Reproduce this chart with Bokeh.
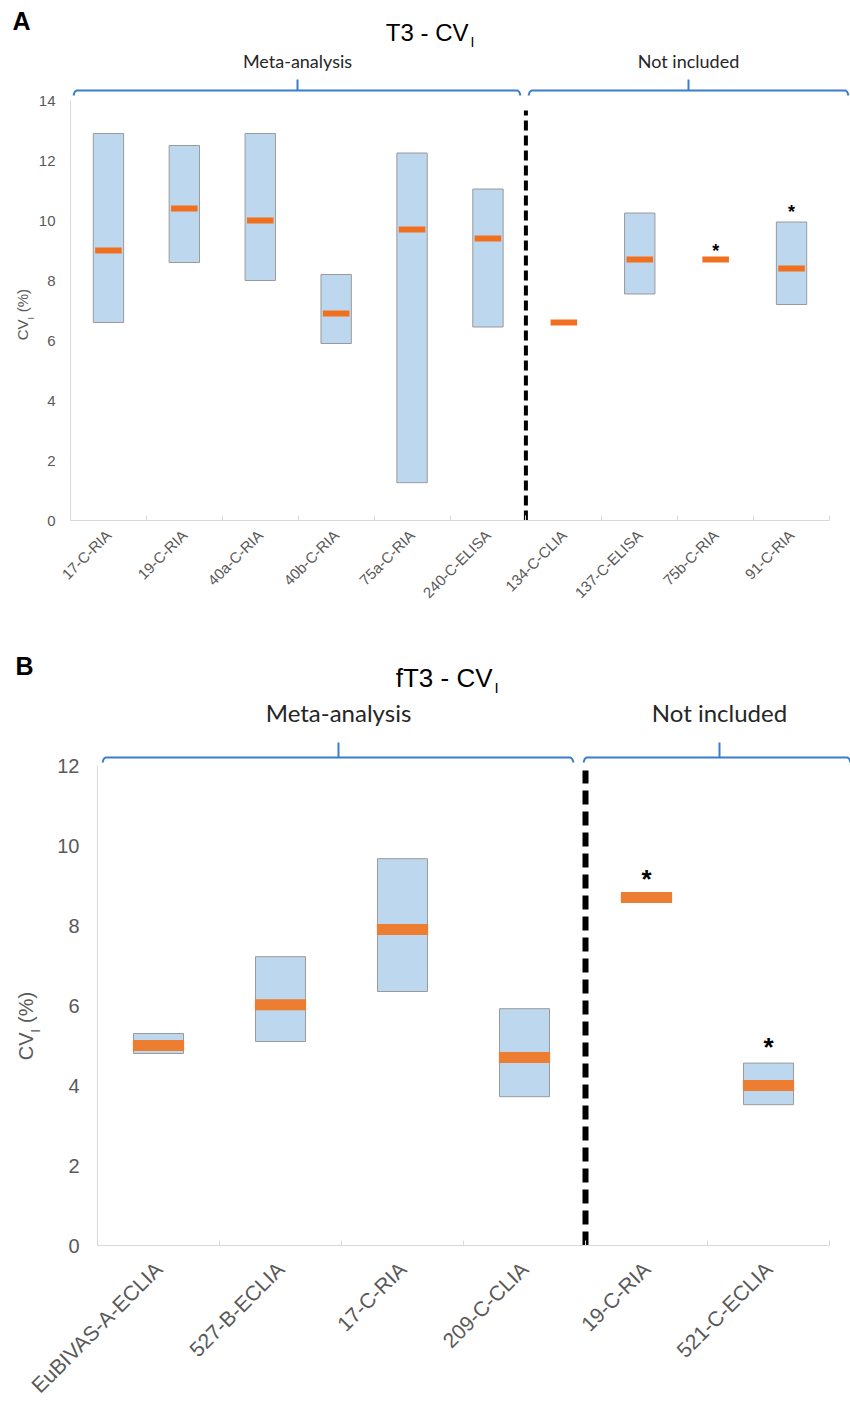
import math
from bokeh.plotting import figure
from bokeh.models import Range1d, FixedTicker
from bokeh.layouts import column
from bokeh.core.properties import value
from bokeh.embed import file_html
from bokeh.resources import INLINE

# ---------------- data ----------------
A_labels = ["17-C-RIA", "19-C-RIA", "40a-C-RIA", "40b-C-RIA", "75a-C-RIA", "240-C-ELISA",
            "134-C-CLIA", "137-C-ELISA", "75b-C-RIA", "91-C-RIA"]
A_low = [6.6, 8.6, 8.0, 5.9, 1.26, 6.45, None, 7.55, None, 7.2]
A_high = [12.9, 12.5, 12.9, 8.2, 12.25, 11.05, None, 10.25, None, 9.95]
A_median = [9.0, 10.4, 10.0, 6.9, 9.7, 9.4, 6.6, 8.7, 8.7, 8.4]
A_star = [None, None, None, None, None, None, None, None, 9.07, 10.37]
A_n_meta = 6
A_yticks = [0, 2, 4, 6, 8, 10, 12, 14]

B_labels = ["EuBIVAS-A-ECLIA", "527-B-ECLIA", "17-C-RIA", "209-C-CLIA", "19-C-RIA", "521-C-ECLIA"]
B_low = [4.8, 5.1, 6.35, 3.72, None, 3.52]
B_high = [5.3, 7.22, 9.67, 5.92, None, 4.56]
B_median = [5.0, 6.02, 7.9, 4.7, 8.7, 4.0]
B_star = [None, None, None, None, 9.25, 5.05]
B_n_meta = 4
B_yticks = [0, 2, 4, 6, 8, 10, 12]

GROUPS = ["Meta-analysis", "Not included"]

BOX_FILL = "#bdd7ee"
BOX_LINE = "#9a9a9a"
AXIS_COL = "#d9d9d9"
TICK_COL = "#595959"
BRACE_COL = "#3a7dcc"
TXT_COL = "#262626"

BASE_FIX = 0.4  # empirical baseline correction (fraction of font size)


def make_panel(labels, low, high, median, star, n_meta, yticks, ymax,
               width, height, bl, br, bt, bb, cfg):
    n = len(labels)
    p = figure(width=width, height=height, x_range=Range1d(0.5, n + 0.5),
               y_range=Range1d(0, ymax), output_backend="svg", toolbar_location=None,
               min_border_left=bl, min_border_right=br, min_border_top=bt,
               min_border_bottom=bb)
    p.frame_align = False
    p.outline_line_color = None
    p.grid.visible = False
    p.background_fill_color = "white"

    ppx = (width - bl - br) / n
    ppy = (height - bt - bb) / ymax

    def X(px):  # pixel within figure -> data x
        return 0.5 + (px - bl) / ppx

    def Y(py):  # pixel from figure top -> data y
        return (height - bb - py) / ppy

    def add_text(px, py, text, font, fs, color="black", align="left", angle=0.0,
                 style="normal"):
        if angle == 0.0:
            py = py - BASE_FIX * fs
        else:
            px = px - BASE_FIX * fs
        p.text(x=[X(px)], y=[Y(py)], text=[text], text_font=value(font),
               text_font_size=f"{fs}px", text_color=color, text_align=align,
               text_baseline="alphabetic", angle=angle, text_font_style=style,
               level="overlay")

    xs = list(range(1, n + 1))
    # axes
    p.xaxis.ticker = FixedTicker(ticks=xs, minor_ticks=[i + 0.5 for i in range(0, n + 1)])
    p.xaxis.major_label_overrides = {i: lab for i, lab in zip(xs, labels)}
    p.xaxis.major_label_orientation = math.pi / 4
    p.xaxis.major_tick_line_color = None
    p.xaxis.major_tick_in = 0
    p.xaxis.major_tick_out = 0
    p.xaxis.minor_tick_line_color = AXIS_COL
    p.xaxis.minor_tick_in = 5
    p.xaxis.minor_tick_out = 0
    p.xaxis.axis_line_color = AXIS_COL
    p.xaxis.major_label_text_font = "Liberation Sans"
    p.xaxis.major_label_text_font_size = cfg["xlab"]
    p.xaxis.major_label_text_color = TICK_COL
    p.xaxis.major_label_standoff = cfg["xstand"]

    p.yaxis.ticker = FixedTicker(ticks=yticks)
    p.yaxis.major_tick_line_color = None
    p.yaxis.minor_tick_line_color = None
    p.yaxis.major_tick_in = 0
    p.yaxis.major_tick_out = 0
    p.yaxis.axis_line_color = AXIS_COL
    p.yaxis.major_label_text_font = "Liberation Sans"
    p.yaxis.major_label_text_font_size = cfg["ylab"]
    p.yaxis.major_label_text_color = TICK_COL
    p.yaxis.major_label_standoff = cfg["ystand"]

    # boxes
    bx = [x for x, lo in zip(xs, low) if lo is not None]
    blo = [lo for lo in low if lo is not None]
    bhi = [hi for hi in high if hi is not None]
    bw = cfg["boxw"] / 2
    p.quad(left=[x - bw for x in bx], right=[x + bw for x in bx], bottom=blo, top=bhi,
           fill_color=BOX_FILL, line_color=BOX_LINE, line_width=1)
    # medians
    p.rect(x=xs, y=median, width=cfg["medw"], height=cfg["medh"], height_units="screen",
           fill_color=cfg["orange"], line_color=None)
    # asterisks (star values = centre of the asterisk)
    fs = cfg["starpx"]
    sx = [x for x, s in zip(xs, star) if s is not None]
    sy = [s - (0.575 - 0.45) * fs / ppy for s in star if s is not None]
    p.text(x=sx, y=sy, text=["*"] * len(sx), text_font=value("Liberation Sans"),
           text_font_style="bold", text_font_size=f"{fs}px",
           text_align="center", text_baseline="alphabetic", text_color="black")
    # divider
    p.segment(x0=[n_meta + 0.5], x1=[n_meta + 0.5], y0=[0], y1=[Y(cfg["divtop_px"])],
              line_color="black", line_width=cfg["divw"], line_dash=cfg["divdash"])

    # braces (decoration above the frame)
    yb = Y(cfg["brace_px"])
    curl = 5 / ppy
    up = cfg["brace_up"] / ppy
    dx = 3 / ppx
    bxs, bys = [], []
    for (x0, x1, xm) in cfg["braces_px"]:
        x0, x1, xm = X(x0), X(x1), X(xm)
        bxs.append([x0, x0 + 0.4 * dx, x0 + dx, x1 - dx, x1 - 0.4 * dx, x1])
        bys.append([yb - curl, yb - 0.3 * curl, yb, yb, yb - 0.3 * curl, yb - curl])
        bxs.append([xm, xm])
        bys.append([yb, yb + up])
    p.multi_line(xs=bxs, ys=bys, line_color=BRACE_COL, line_width=2, level="overlay")

    # group labels
    for (x0, x1, xm), g in zip(cfg["braces_px"], GROUPS):
        add_text(xm, cfg["group_base_px"], g, "Lato", cfg["grp"], TXT_COL, "center")
    # title with subscript
    tx, ty = cfg["title_end_px"]
    add_text(tx, ty, cfg["title"], "Liberation Sans", cfg["tsize"], "black", "right")
    add_text(tx + 2, ty + 5, "I", "Liberation Sans", cfg["tsub"], "black", "left")
    # panel letter
    lx, ly = cfg["letter_px"]
    add_text(lx, ly, cfg["letter_text"], "Liberation Sans", 25, "black", "left",
             style="bold")
    # y-axis label CV_I (%) rotated
    ax, ay = cfg["ylabel_px"]
    fs = cfg["ylfs"]
    sub = int(round(fs * 0.6))
    add_text(ax, ay, "CV", "Liberation Sans", fs, TICK_COL, "right", angle=math.pi / 2)
    add_text(ax + 0.22 * fs + BASE_FIX * (fs - sub), ay, "I", "Liberation Sans", sub,
             TICK_COL, "left", angle=math.pi / 2)
    add_text(ax, ay - 0.2 * fs - 0.28 * fs, "(%)", "Liberation Sans", fs, TICK_COL,
             "left", angle=math.pi / 2)
    return p


# Panel A: figure 850x620, frame x 70..829, y 100..520
cfgA = dict(xlab="15px", xstand=12, ylab="15px", ystand=15, boxw=0.40, medw=0.35, medh=6,
            orange="#f07020", starpx=18, divtop_px=110, divw=4, divdash="10 5",
            brace_px=90, brace_up=11,
            braces_px=[(73, 520, 297), (528, 848, 688)],
            group_base_px=68, grp=18, title="T3 - CV", title_end_px=(468, 42),
            tsize=24, tsub=14, letter_px=(12, 30), letter_text="A",
            ylabel_px=(28, 319), ylfs=15)
pA = make_panel(A_labels, A_low, A_high, A_median, A_star, A_n_meta, A_yticks, 14,
                850, 620, 70, 21, 100, 100, cfgA)

# Panel B: figure 850x788 (page y 620..1408), frame x 97..829, y 145..625
cfgB = dict(xlab="21px", xstand=20, ylab="20px", ystand=18, boxw=0.41, medw=0.42, medh=11,
            orange="#ed7d31", starpx=26, divtop_px=150, divw=6, divdash="14 7",
            brace_px=137, brace_up=15,
            braces_px=[(102, 573, 338), (583, 850, 719)],
            group_base_px=102, grp=24, title="fT3 - CV", title_end_px=(492, 68),
            tsize=26, tsub=15, letter_px=(15, 55), letter_text="B",
            ylabel_px=(33, 412), ylfs=20)
pB = make_panel(B_labels, B_low, B_high, B_median, B_star, B_n_meta, B_yticks, 12,
                850, 788, 97, 21, 145, 163, cfgB)

layout = column(pA, pB, spacing=0)
open("out.html", "w").write(file_html(layout, INLINE))
